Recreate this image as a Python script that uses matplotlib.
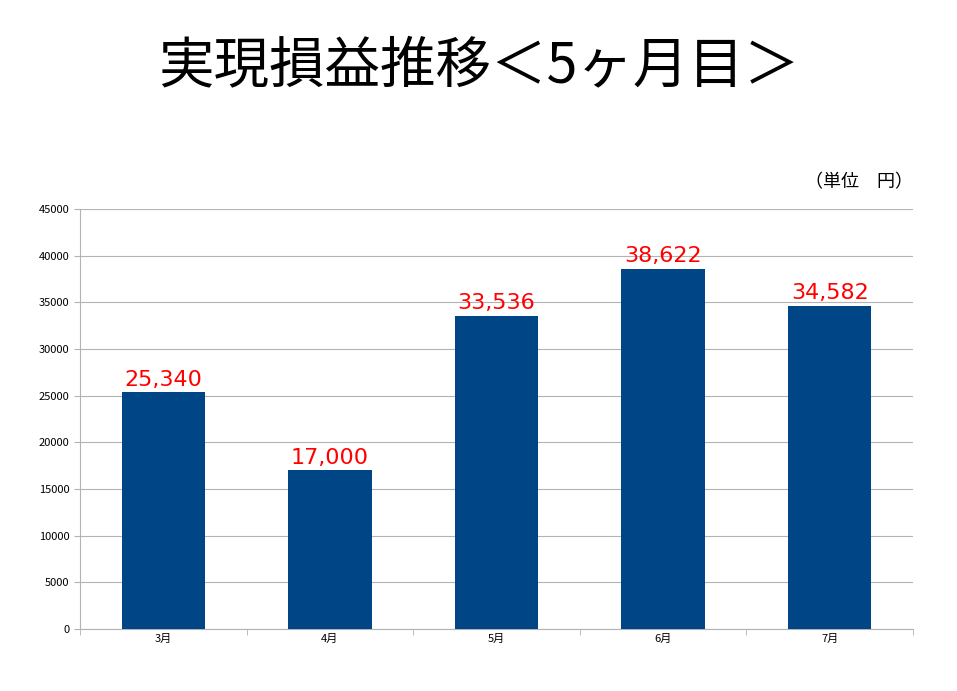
import matplotlib
matplotlib.use("Agg")
import matplotlib.pyplot as plt
import numpy as np

plt.rcParams["font.family"] = ["Noto Sans CJK JP", "DejaVu Sans"]

categories = ["3月", "4月", "5月", "6月", "7月"]
values = [25340, 17000, 33536, 38622, 34582]
title = "実現損益推移＜5ヶ月目＞"
unit = "（単位　円）"

fig = plt.figure(figsize=(9.57, 6.91), dpi=100)
ax = fig.add_axes([80/957, 1-629/691, (913-80)/957, (629-209)/691])
x = np.arange(len(categories))
ax.bar(x, values, width=0.5, color="#004586", zorder=3)
for xi, v in zip(x, values):
    ax.text(xi, v + 300, f"{v:,}", ha="center", va="bottom", color="red",
            fontsize=16, family="DejaVu Sans")
ax.set_xlim(-0.5, len(categories) - 0.5)
ax.set_ylim(0, 45000)
ax.set_yticks(np.arange(0, 45001, 5000))
ax.yaxis.grid(True, color="#b3b3b3", linewidth=0.8, zorder=0)
ax.set_xticks(x)
ax.set_xticklabels(categories, fontsize=8)
ax.set_xticks(np.arange(-0.5, len(categories), 1), minor=True)
ax.tick_params(axis="x", which="major", length=0)
ax.tick_params(axis="x", which="minor", length=4, color="#b3b3b3")
ax.tick_params(axis="y", labelsize=8, length=4, color="#b3b3b3")
for s in ["top", "right"]:
    ax.spines[s].set_visible(False)
ax.spines["left"].set_color("#b3b3b3")
ax.spines["bottom"].set_color("#b3b3b3")

fig.text(0.5, 1-67/691, title, ha="center", va="center", fontsize=40)
fig.text(913/957, 1-182/691, unit, ha="right", va="center", fontsize=13)

fig.savefig("out.png", dpi=100)
